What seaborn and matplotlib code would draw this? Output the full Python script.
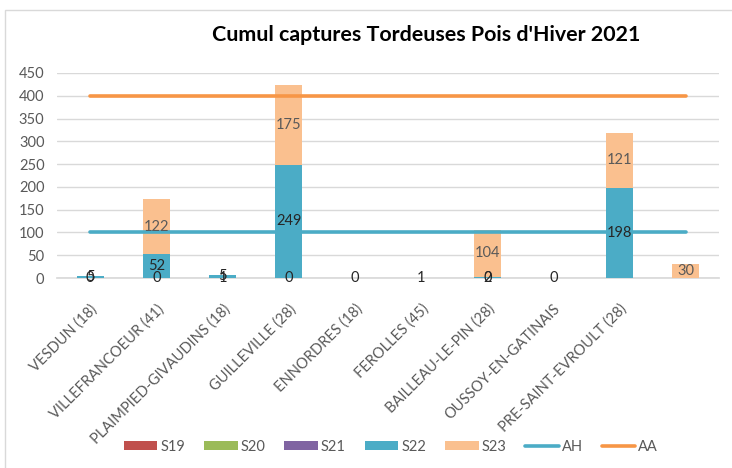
import numpy as np
import pandas as pd
import seaborn as sns
import matplotlib
matplotlib.use("Agg")
import matplotlib.pyplot as plt
from matplotlib.patches import Patch, Rectangle
from matplotlib.lines import Line2D

categories = ["VESDUN (18)", "VILLEFRANCOEUR (41)", "PLAIMPIED-GIVAUDINS (18)",
              "GUILLEVILLE (28)", "ENNORDRES (18)", "FEROLLES (45)",
              "BAILLEAU-LE-PIN (28)", "OUSSOY-EN-GATINAIS",
              "PRE-SAINT-EVROULT (28)", ""]
nan = np.nan
S19 = [0, 0, 0, 0, 0, 0, 0, 0, nan, nan]
S20 = [0, 0, 0, 0, 0, 0, 0, 0, nan, nan]
S21 = [0, 0, 1, 0, 0, 1, 0, 0, nan, nan]
S22 = [5, 52, 5, 249, 0, 0, 2, 0, 198, 0]
S23 = [0, 122, 0, 175, 0, 0, 104, 0, 121, 30]
AH = [100, 100, 100, 100, 100, 100, 100, 100, 100, 100]
AA = [400, 400, 400, 400, 400, 400, 400, 400, 400, 400]
yticks = [0, 50, 100, 150, 200, 250, 300, 350, 400, 450]
title = "Cumul captures Tordeuses Pois d'Hiver 2021"

colors = {"S19": "#C0504D", "S20": "#9BBB59", "S21": "#8064A2",
          "S22": "#4BACC6", "S23": "#FAC08F", "AH": "#4BACC6", "AA": "#F79646"}

sns.set_theme(style="white")
plt.rcParams["font.family"] = ["Lato", "DejaVu Sans"]

series = {"S19": S19, "S20": S20, "S21": S21, "S22": S22, "S23": S23}
df = pd.DataFrame({k: np.nan_to_num(np.array(v, dtype=float)) for k, v in series.items()})
df["pos"] = np.arange(len(categories))
cum = df[["S19", "S20", "S21", "S22", "S23"]].cumsum(axis=1)

fig = plt.figure(figsize=(7.32, 4.68), dpi=100)
ax = fig.add_axes([57/732, 1-278/468, 662/732, 205/468])

order = ["S23", "S22", "S21", "S20", "S19"]
for name in order:
    sns.barplot(x=df["pos"], y=cum[name], color=colors[name], width=0.41,
                saturation=1, linewidth=0, ax=ax, zorder=2)

x = np.arange(len(categories))
sns.lineplot(x=x, y=AH, color=colors["AH"], linewidth=2.6, ax=ax, zorder=3)
sns.lineplot(x=x, y=AA, color=colors["AA"], linewidth=2.6, ax=ax, zorder=3)

# data labels
base = cum["S21"].values
lab_fs = 10.5
for i in range(len(categories)):
    if not np.isnan(S21[i]):
        ax.text(i, 0, f"{int(S21[i])}", ha="center", va="center", fontsize=lab_fs,
                color="#262626", zorder=5)
    if S22[i] > 0:
        ax.text(i, base[i] + S22[i]/2, f"{S22[i]}", ha="center", va="center",
                fontsize=lab_fs, color="#262626", zorder=5)
    if S23[i] > 0:
        ax.text(i, base[i] + S22[i] + S23[i]/2, f"{S23[i]}", ha="center",
                va="center", fontsize=lab_fs, color="#595959", zorder=5)

ax.set_xlim(-0.5, len(categories) - 0.5)
ax.set_ylim(0, 450)
ax.set_yticks(yticks)
ax.set_yticklabels([str(v) for v in yticks], fontsize=10.5, color="#595959")
ax.set_xticks(x)
ax.set_xticklabels(categories, rotation=45, ha="right", rotation_mode="anchor",
                   fontsize=10.5, color="#595959")
ax.tick_params(axis="x", length=0, pad=17)
ax.tick_params(axis="y", length=0, pad=9)
ax.set_xlabel("")
ax.set_ylabel("")
ax.yaxis.grid(True, color="#D9D9D9", linewidth=1)
ax.set_axisbelow(True)
for s in ["top", "right", "left"]:
    ax.spines[s].set_visible(False)
ax.spines["bottom"].set_color("#D9D9D9")
ax.spines["bottom"].set_zorder(1)

fig.text(426/732, 1-35/468, title, ha="center", va="center", fontsize=15.4,
         fontweight="bold", color="#000000")

handles = [Patch(facecolor=colors[k], edgecolor="none") for k in ["S19", "S20", "S21", "S22", "S23"]]
handles += [Line2D([0], [0], color=colors["AH"], lw=2.6),
            Line2D([0], [0], color=colors["AA"], lw=2.6)]
labels = ["S19", "S20", "S21", "S22", "S23", "AH", "AA"]
leg = fig.legend(handles, labels, loc="center", bbox_to_anchor=(391/732, 1-447/468),
                 ncol=7, frameon=False, fontsize=10.5, handlelength=2.3,
                 handleheight=0.6, handletextpad=0.2, columnspacing=1.3)
for t in leg.get_texts():
    t.set_color("#595959")

fig.patches.append(Rectangle((5/732, -0.1), 1.2, 1-10/468 + 0.1, transform=fig.transFigure,
                             fill=False, edgecolor="#D9D9D9", linewidth=1))

fig.savefig("out.png", dpi=100, facecolor="white")
